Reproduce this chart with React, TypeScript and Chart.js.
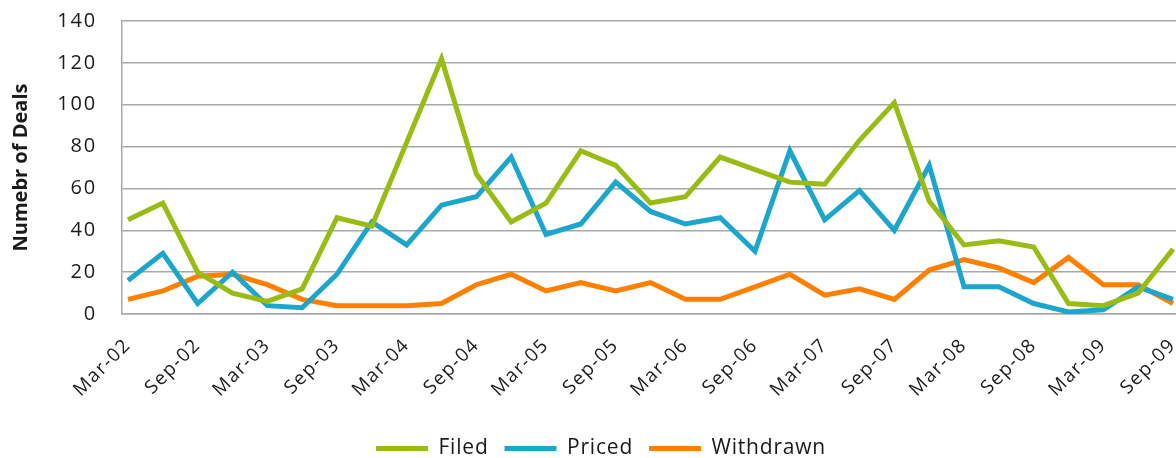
import React, { useEffect, useRef } from 'react';
import { Chart, registerables } from 'chart.js';

Chart.register(...registerables);

const quarterLabels = [
  'Mar-02', 'Jun-02', 'Sep-02', 'Dec-02',
  'Mar-03', 'Jun-03', 'Sep-03', 'Dec-03',
  'Mar-04', 'Jun-04', 'Sep-04', 'Dec-04',
  'Mar-05', 'Jun-05', 'Sep-05', 'Dec-05',
  'Mar-06', 'Jun-06', 'Sep-06', 'Dec-06',
  'Mar-07', 'Jun-07', 'Sep-07', 'Dec-07',
  'Mar-08', 'Jun-08', 'Sep-08', 'Dec-08',
  'Mar-09', 'Jun-09', 'Sep-09',
];

const filedValues = [45, 53, 20, 10, 6, 12, 46, 42, 82, 122, 67, 44, 53, 78, 71, 53, 56, 75, 69, 63, 62, 83, 101, 54, 33, 35, 32, 5, 4, 10, 31];
const pricedValues = [16, 29, 5, 20, 4, 3, 19, 44, 33, 52, 56, 75, 38, 43, 63, 49, 43, 46, 30, 78, 45, 59, 40, 71, 13, 13, 5, 1, 2, 13, 7];
const withdrawnValues = [7, 11, 18, 19, 14, 7, 4, 4, 4, 5, 14, 19, 11, 15, 11, 15, 7, 7, 13, 19, 9, 12, 7, 21, 26, 22, 15, 27, 14, 14, 5];

const seriesNames = ['Filed', 'Priced', 'Withdrawn'];
const seriesColors = ['#99BB14', '#1CA6CB', '#FF7F00'];
const yAxisTitle = 'Numebr of Deals';

const FONT = "'Open Sans', sans-serif";
const TEXT = '#1a1a1a';
const GRID = '#a8a8a8';

function spacingFor(font: string): string {
  if (/bold|700/.test(font)) return '0px';
  if (font.includes('21px')) return '0.8px';
  if (font.includes('19px')) return '1.5px';
  if (font.includes('20px')) return '1.8px';
  return '0px';
}

const letterSpacingPlugin = {
  id: 'letterSpacingPatch',
  beforeInit(chart: any) {
    const ctx = chart.ctx as any;
    const fill = ctx.fillText.bind(ctx);
    const measure = ctx.measureText.bind(ctx);
    ctx.fillText = (t: string, x: number, y: number, m?: number) => {
      ctx.letterSpacing = spacingFor(ctx.font);
      return m === undefined ? fill(t, x, y) : fill(t, x, y, m);
    };
    ctx.measureText = (t: string) => {
      ctx.letterSpacing = spacingFor(ctx.font);
      return measure(t);
    };
  },
};

const legendShiftPlugin = {
  id: 'legendShift',
  afterLayout(chart: any) {
    const lg = chart.legend;
    if (lg) {
      lg.left += 13;
      lg.right += 13;
      lg.top += 11;
      lg.bottom += 11;
    }
  },
};

export default function App() {
  const canvasRef = useRef<HTMLCanvasElement | null>(null);

  useEffect(() => {
    if (!canvasRef.current) return;
    const toPoints = (vals: number[]) => vals.map((v, i) => ({ x: i, y: v }));
    const valueSets = [filedValues, pricedValues, withdrawnValues];

    const chart = new Chart(canvasRef.current, {
      type: 'line',
      data: {
        datasets: valueSets.map((vals, k) => ({
          label: seriesNames[k],
          data: toPoints(vals),
          borderColor: seriesColors[k],
          backgroundColor: seriesColors[k],
          borderWidth: 5,
          pointRadius: 0,
          pointHoverRadius: 0,
          tension: 0,
          fill: false,
          borderJoinStyle: 'miter' as const,
        })),
      },
      options: {
        animation: false,
        responsive: true,
        maintainAspectRatio: false,
        layout: { padding: { top: 21, right: 0, left: 0, bottom: 0 } },
        plugins: {
          tooltip: { enabled: false },
          legend: {
            display: true,
            position: 'bottom',
            align: 'center',
            labels: {
              boxWidth: 52,
              boxHeight: 5,
              padding: 16,
              color: TEXT,
              font: { family: FONT, size: 21 },
              generateLabels: (c: any) =>
                c.data.datasets.map((ds: any, i: number) => ({
                  text: ds.label,
                  fillStyle: ds.borderColor,
                  strokeStyle: ds.borderColor,
                  lineWidth: 0,
                  hidden: false,
                  datasetIndex: i,
                  fontColor: TEXT,
                })),
            },
          },
        },
        scales: {
          x: {
            type: 'linear',
            min: -0.172,
            max: 30.086,
            grid: { display: false, drawTicks: false },
            border: { display: true, color: GRID, width: 1.5 },
            afterBuildTicks: (scale: any) => {
              scale.ticks = quarterLabels
                .map((_, i) => i)
                .filter((i) => i % 2 === 0)
                .map((i) => ({ value: i }));
            },
            afterFit: (scale: any) => {
              scale.height = 97;
              scale.paddingLeft = 0;
              scale.paddingRight = 0;
            },
            ticks: {
              autoSkip: false,
              minRotation: 45,
              maxRotation: 45,
              padding: 20,
              color: TEXT,
              font: { family: FONT, size: 19 },
              callback: (v: any) => quarterLabels[Math.round(Number(v))] ?? '',
            },
          },
          y: {
            type: 'linear',
            min: 0,
            max: 140,
            grid: { color: GRID, lineWidth: 1.5, drawTicks: false },
            border: { display: true, color: GRID, width: 1.5 },
            afterFit: (scale: any) => {
              scale.width = 122;
              scale.paddingTop = 0;
              scale.paddingBottom = 0;
            },
            ticks: {
              stepSize: 20,
              padding: 25,
              color: TEXT,
              font: { family: FONT, size: 20 },
            },
            title: {
              display: true,
              text: yAxisTitle,
              color: TEXT,
              font: { family: FONT, size: 20, weight: 'bold' },
              padding: { top: 9, bottom: 0 },
            },
          },
        },
      },
      plugins: [letterSpacingPlugin, legendShiftPlugin],
    } as any);

    return () => chart.destroy();
  }, []);

  return (
    <div
      style={{
        position: 'absolute',
        left: 0,
        top: 0,
        width: 1176,
        height: 458,
        background: '#ffffff',
      }}
    >
      <canvas ref={canvasRef} />
    </div>
  );
}
